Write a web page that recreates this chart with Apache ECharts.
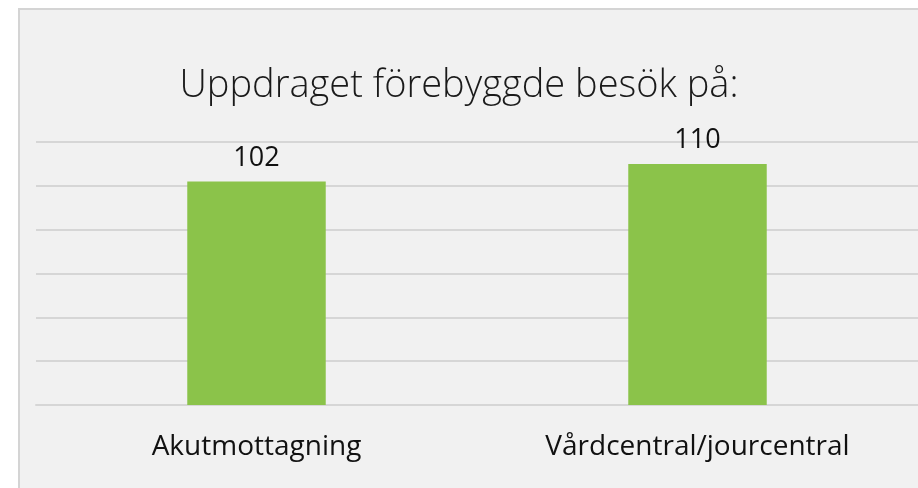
<!DOCTYPE html>
<html>
<head>
<meta charset="utf-8">
<script src="https://cdn.jsdelivr.net/npm/echarts@6/dist/echarts.min.js"></script>
<style>
  html, body { margin: 0; padding: 0; background: #fff; overflow: hidden; }
  #frame {
    position: absolute; left: 18px; top: 8px; width: 1000px; height: 1000px;
    border: 2px solid #d4d4d4; background: #f1f1f1;
  }
  #chart { position: absolute; left: 0; top: 0; width: 918px; height: 488px; }
</style>
</head>
<body>
<div id="frame"></div>
<div id="chart"></div>
<script>
// kategorier och värden
const categories = ['Akutmottagning', 'Vårdcentral/jourcentral']
const values = [102, 110]
const chartTitle = 'Uppdraget förebyggde besök på:'

let chart = echarts.init(document.getElementById('chart'))
chart.setOption({
  backgroundColor: 'transparent',
  title: {
    text: chartTitle,
    left: 'center',
    top: 62,
    textStyle: {
      fontFamily: 'Open Sans',
      fontWeight: 300,
      fontSize: 38,
      color: '#1a1a1a'
    }
  },
  grid: { left: 36, right: -3, top: 142, bottom: 83, containLabel: false },
  xAxis: {
    type: 'category',
    data: categories,
    axisLine: { lineStyle: { color: '#d6d6d6', width: 2 } },
    axisTick: { show: false },
    axisLabel: {
      margin: 28,
      fontFamily: 'Open Sans',
      fontSize: 28,
      color: '#111'
    }
  },
  yAxis: {
    type: 'value',
    min: 0,
    max: 120,
    interval: 20,
    axisLabel: { show: false },
    axisLine: { show: false },
    axisTick: { show: false },
    splitLine: { lineStyle: { color: '#d6d6d6', width: 2 } }
  },
  series: [{
    type: 'bar',
    data: values,
    barWidth: '31.4%',
    itemStyle: { color: '#8BC34A' },
    label: {
      show: true,
      position: 'top',
      distance: 10,
      fontFamily: 'Open Sans',
      fontSize: 27,
      color: '#111'
    }
  }]
})
</script>
</body>
</html>
